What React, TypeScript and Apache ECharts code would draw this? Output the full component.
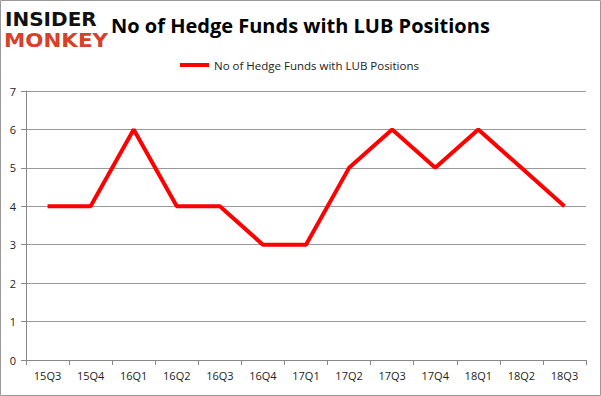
import React, { useEffect, useRef } from "react";
import * as echarts from "echarts";

const categories = ["15Q3", "15Q4", "16Q1", "16Q2", "16Q3", "16Q4", "17Q1", "17Q2", "17Q3", "17Q4", "18Q1", "18Q2", "18Q3"];
const values = [4, 4, 6, 4, 4, 3, 3, 5, 6, 5, 6, 5, 4];
const seriesName = "No of Hedge Funds with LUB Positions";
const titleText = "No of Hedge Funds with LUB Positions";

export default function App() {
  const ref = useRef<HTMLDivElement>(null);
  useEffect(() => {
    document.body.style.margin = "0";
    const chart = echarts.init(ref.current!, null, { renderer: "svg" });
    chart.setOption({
      animation: false,
      backgroundColor: "#ffffff",
      title: {
        text: titleText,
        left: 106,
        top: 10,
        textStyle: { fontFamily: "Open Sans", fontWeight: "bold", fontSize: 20, color: "#000" },
      },
      legend: {
        data: [seriesName],
        top: 54,
        left: 175,
        itemWidth: 29,
        itemHeight: 4,
        itemGap: 4,
        icon: "rect",
        textStyle: { fontFamily: "Open Sans", fontSize: 11.5, color: "#222" },
      },
      graphic: [
        { type: "rect", shape: { x: 0.5, y: 0.5, width: 600, height: 395 }, style: { fill: "none", stroke: "#999", lineWidth: 1 } },
        { type: "text", x: 5, y: 9, style: { text: "INSIDER", font: "900 20px 'DejaVu Sans'", lineHeight: 20, fill: "#111" } },
        { type: "text", x: 4, y: 30, scaleX: 1.07, style: { text: "MONKEY", font: "900 20px 'DejaVu Sans'", lineHeight: 20, fill: "#d7402b" } },
      ],
      grid: { left: 26, right: 15, top: 91, bottom: 36 },
      xAxis: {
        type: "category",
        data: categories,
        boundaryGap: true,
        axisLine: { lineStyle: { color: "#888" } },
        axisTick: { show: true, length: 5, lineStyle: { color: "#888" } },
        axisLabel: { fontFamily: "Open Sans", fontSize: 11, color: "#222", margin: 10 },
      },
      yAxis: {
        type: "value",
        min: 0,
        max: 7,
        interval: 1,
        axisLine: { show: true, lineStyle: { color: "#888" } },
        axisTick: { show: true, length: 5, lineStyle: { color: "#888" } },
        axisLabel: { fontFamily: "Open Sans", fontSize: 11, color: "#222", margin: 10 },
        splitLine: { lineStyle: { color: "#999" } },
      },
      series: [
        {
          name: seriesName,
          type: "line",
          data: values,
          symbol: "none",
          lineStyle: { color: "#ff0000", width: 4 },
          itemStyle: { color: "#ff0000" },
        },
      ],
    });
    return () => chart.dispose();
  }, []);
  return <div ref={ref} style={{ width: 601, height: 396 }} />;
}
